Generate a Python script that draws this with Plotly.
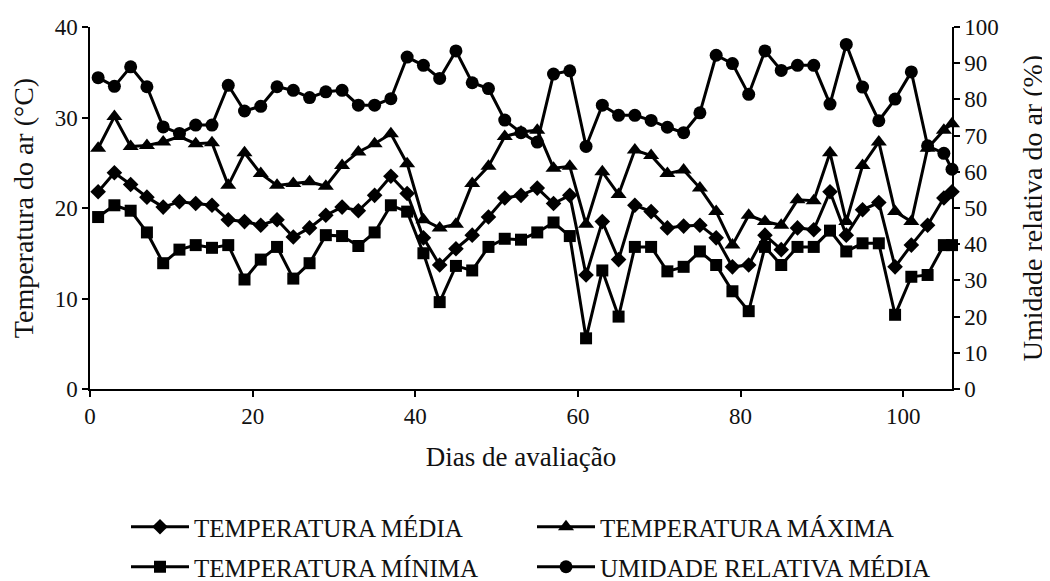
import plotly.graph_objects as go

days = [1, 3, 5, 7, 9, 11, 13, 15, 17, 19, 21, 23, 25, 27, 29, 31, 33, 35, 37, 39,
        41, 43, 45, 47, 49, 51, 53, 55, 57, 59, 61, 63, 65, 67, 69, 71, 73, 75, 77, 79,
        81, 83, 85, 87, 89, 91, 93, 95, 97, 99, 101, 103, 105, 106]

temp_media = [21.8, 23.9, 22.6, 21.2, 20.1, 20.7, 20.5, 20.3, 18.7, 18.5, 18.1, 18.7, 16.8, 17.8,
              19.2, 20.1, 19.7, 21.4, 23.5, 21.6, 16.7, 13.7, 15.5, 17.0, 19.0, 21.1, 21.4, 22.2,
              20.5, 21.4, 12.6, 18.5, 14.3, 20.3, 19.6, 17.8, 18.0, 18.1, 16.7, 13.5, 13.7, 17.0,
              15.4, 17.8, 17.6, 21.8, 17.0, 19.8, 20.6, 13.5, 15.9, 18.1, 21.1, 21.8]

temp_maxima = [26.6, 30.1, 26.8, 26.9, 27.3, 27.9, 27.1, 27.2, 22.5, 26.1, 23.8, 22.5, 22.7, 22.9,
               22.4, 24.7, 26.2, 27.1, 28.2, 24.9, 18.7, 17.8, 18.2, 22.7, 24.6, 27.9, 28.4, 28.6,
               24.4, 24.6, 18.2, 24.0, 21.5, 26.4, 25.8, 23.8, 24.2, 22.2, 19.6, 15.9, 19.2, 18.5,
               18.1, 20.9, 20.8, 26.1, 18.5, 24.7, 27.3, 19.6, 18.5, 26.6, 28.6, 29.3]

temp_minima = [19.0, 20.3, 19.7, 17.3, 13.9, 15.4, 15.9, 15.6, 15.9, 12.1, 14.3, 15.7, 12.2, 13.9,
               17.0, 16.9, 15.8, 17.3, 20.3, 19.6, 15.0, 9.6, 13.6, 13.1, 15.7, 16.6, 16.5, 17.3,
               18.4, 16.9, 5.6, 13.1, 8.0, 15.7, 15.7, 13.0, 13.5, 15.2, 13.7, 10.8, 8.6, 15.7,
               13.7, 15.7, 15.7, 17.5, 15.2, 16.1, 16.1, 8.2, 12.4, 12.6, 15.9, 15.9]

umidade = [86.0, 83.6, 89.0, 83.5, 72.4, 70.6, 72.9, 72.9, 83.9, 76.8, 78.1, 83.5, 82.5, 80.5,
           82.1, 82.5, 78.4, 78.4, 80.2, 91.7, 89.4, 85.8, 93.4, 84.6, 83.0, 74.3, 70.8, 68.2,
           87.0, 87.9, 67.0, 78.4, 75.6, 75.6, 74.2, 72.3, 70.8, 76.3, 92.2, 89.9, 81.4, 93.4,
           88.0, 89.4, 89.4, 78.7, 95.2, 83.4, 74.1, 80.1, 87.6, 67.2, 65.1, 60.7]

names = ["TEMPERATURA MÉDIA", "TEMPERATURA MÁXIMA", "TEMPERATURA MÍNIMA", "UMIDADE RELATIVA MÉDIA"]

FONT = "Liberation Serif"
BLACK = "#000000"
TXT = "#111111"

fig = go.Figure()
fig.add_trace(go.Scatter(x=days, y=temp_media, name=names[0], mode="lines+markers",
                         line=dict(color=BLACK, width=3), cliponaxis=False, legend="legend",
                         marker=dict(symbol="diamond", size=12, color=BLACK)))
fig.add_trace(go.Scatter(x=days, y=temp_maxima, name=names[1], mode="lines+markers",
                         line=dict(color=BLACK, width=3), cliponaxis=False, legend="legend",
                         marker=dict(symbol="triangle-up", size=14, color=BLACK)))
fig.add_trace(go.Scatter(x=days, y=temp_minima, name=names[2], mode="lines+markers",
                         line=dict(color=BLACK, width=3), cliponaxis=False, legend="legend2",
                         marker=dict(symbol="square", size=12, color=BLACK)))
fig.add_trace(go.Scatter(x=days, y=umidade, name=names[3], mode="lines+markers", yaxis="y2",
                         line=dict(color=BLACK, width=3), cliponaxis=False, legend="legend2",
                         marker=dict(symbol="circle", size=13, color=BLACK)))

axis_common = dict(showline=True, linecolor=BLACK, linewidth=1.5, ticks="outside",
                   tickcolor=BLACK, tickwidth=1.5, ticklen=6, showgrid=False, zeroline=False,
                   tickfont=dict(family=FONT, size=23, color=TXT))

legend_common = dict(orientation="h", xref="container", yref="container",
                     x=118 / 1050, xanchor="left", yanchor="middle",
                     font=dict(family=FONT, size=25, color=TXT),
                     entrywidth=333, entrywidthmode="pixels", itemwidth=58,
                     bgcolor="rgba(0,0,0,0)", traceorder="normal")

fig.update_layout(
    width=1050, height=581, autosize=False,
    paper_bgcolor="white", plot_bgcolor="white",
    margin=dict(l=82, r=106, t=19, b=200, autoexpand=False),
    font=dict(family=FONT, size=23, color=TXT),
    xaxis=dict(range=[0, 106], tick0=0, dtick=20, title=dict(text="Dias de avaliação",
               font=dict(family=FONT, size=27), standoff=19), **axis_common),
    yaxis=dict(range=[0, 40], dtick=10, title=dict(text="Temperatura do ar (°C)",
               font=dict(family=FONT, size=28), standoff=16), **axis_common),
    yaxis2=dict(range=[0, 100], dtick=10, overlaying="y", side="right", anchor="x",
                title=dict(text="Umidade relativa do ar (%)", font=dict(family=FONT, size=28),
                           standoff=25), **axis_common),
    legend=dict(y=1 - 519 / 581, **legend_common),
    legend2=dict(y=1 - 559 / 581, **legend_common),
    showlegend=True,
)

fig.write_html("out.html")
